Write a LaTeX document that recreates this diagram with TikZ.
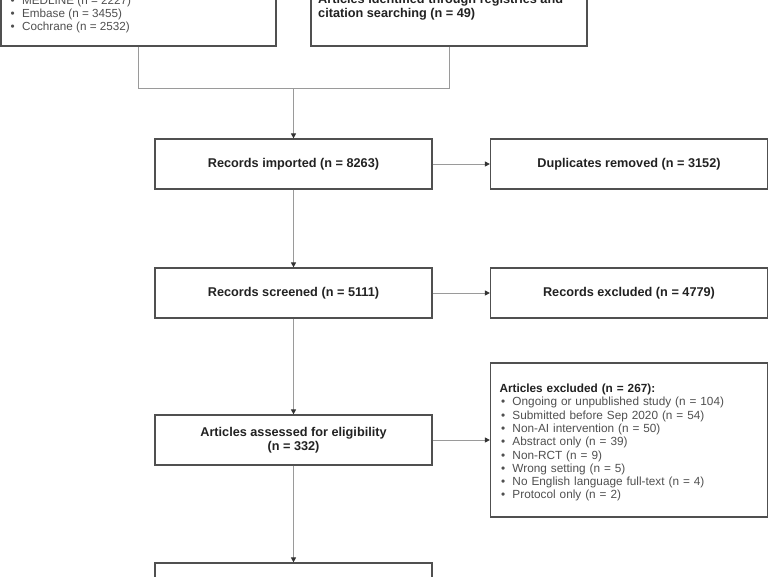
\documentclass[tikz,border=0pt]{standalone}
\usepackage{fontspec}
\setmainfont{Liberation Sans}
\usetikzlibrary{arrows.meta}
\definecolor{boxline}{HTML}{505050}
\definecolor{connline}{HTML}{9A9A9A}
\definecolor{arrowc}{HTML}{333333}
\definecolor{boldtxt}{HTML}{222222}
\definecolor{regtxt}{HTML}{505050}
\newcommand\blt{\hspace*{1.5pt}\makebox[11.5pt][l]{\textbullet}}
\begin{document}
\begin{tikzpicture}[x=1pt,y=-1pt,
  box/.style={draw=boxline, line width=1.2pt, fill=white, minimum width=277pt,
    minimum height=50pt, inner sep=0pt, text=boldtxt, align=center,
    font=\bfseries\fontsize{12.7}{14}\selectfont},
  txt/.style={inner sep=0pt, align=left, anchor=north west,
    font=\fontsize{11.7}{13.3}\selectfont},
  conn/.style={draw=connline, line width=0.9pt},
  arr/.style={conn, -{Triangle[length=5pt,width=5pt,color=arrowc]}}]
\useasboundingbox (0,0) rectangle (768,576);

% top boxes
\node[box, minimum width=275pt, minimum height=100pt] (db) at (138.5,-4) {};
\node[box, minimum width=276pt, minimum height=100pt] (reg) at (449,-4) {};
\node[txt, text=regtxt] (dbtxt) at (9,-4.5)
  {\blt MEDLINE (n = 2227)\\ \blt Embase (n = 3455)\\ \blt Cochrane (n = 2532)};
\node[txt, text=boldtxt, font=\bfseries\fontsize{12.7}{13.5}\selectfont] (regtxt) at (318,-5.5)
  {Articles identified through registries and\\ citation searching (n = 49)};

% main column
\node[box] (imp) at (293.5,164) {Records imported (n = 8263)};
\node[box] (dup) at (629,164) {Duplicates removed (n = 3152)};
\node[box] (scr) at (293.5,293) {Records screened (n = 5111)};
\node[box] (rex) at (629,293) {Records excluded (n = 4779)};
\node[box] (ass) at (293.5,440) {Articles assessed for eligibility\\[0.5pt](n = 332)};
\node[box, minimum height=154pt, text width=259pt, inner xsep=9pt, align=left,
  font=\bfseries\fontsize{11.8}{13.3}\selectfont] (exc) at (629,440)
  {\rule{0pt}{14pt}Articles excluded (n = 267):\\
   \mdseries\color{regtxt}\blt Ongoing or unpublished study (n = 104)\\
   \blt Submitted before Sep 2020 (n = 54)\\
   \blt Non-AI intervention (n = 50)\\
   \blt Abstract only (n = 39)\\
   \blt Non-RCT (n = 9)\\
   \blt Wrong setting (n = 5)\\
   \blt No English language full-text (n = 4)\\
   \blt Protocol only (n = 2)};
\node[box, minimum height=74pt] (fin) at (293.5,600) {};

% connectors
\coordinate (j) at (293.5,88);
\draw[conn] (db.south) |- (j);
\draw[conn] (reg.south) |- (j);
\draw[arr] (j) -- (imp.north);
\draw[arr] (imp) -- (dup);
\draw[arr] (imp) -- (scr);
\draw[arr] (scr) -- (rex);
\draw[arr] (scr) -- (ass);
\draw[arr] (ass) -- (exc.west |- ass.east);
\draw[arr] (ass) -- (fin);
\end{tikzpicture}
\end{document}
